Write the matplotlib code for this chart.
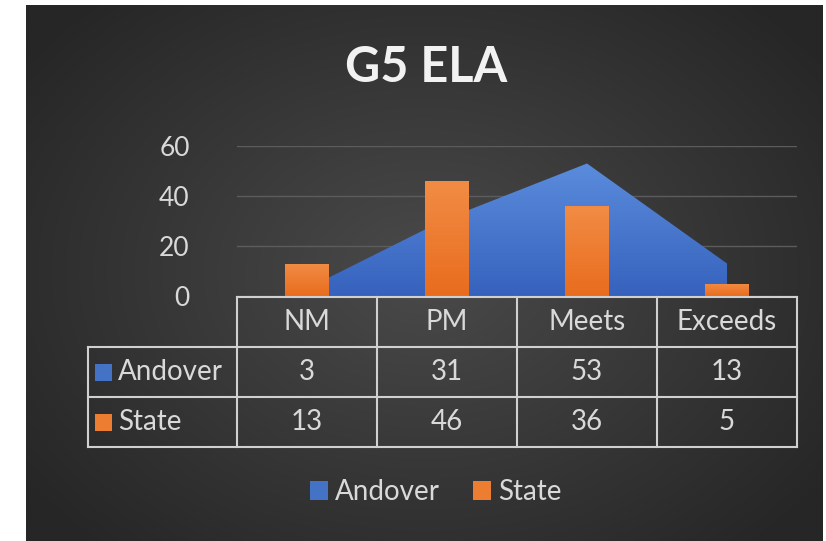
import matplotlib.pyplot as plt
import numpy as np
from matplotlib.patches import Patch, Rectangle
from matplotlib.path import Path
from matplotlib.patches import PathPatch

categories = ["NM", "PM", "Meets", "Exceeds"]
andover = [3, 31, 53, 13]
state = [13, 46, 36, 5]
series_names = ["Andover", "State"]
yticks = [0, 20, 40, 60]

BLUE = "#4472c4"
ORANGE = "#ed7d31"
TEXT = "#d9d9d9"
LINE = "#d0d0d0"

plt.rcParams["font.family"] = ["Lato", "DejaVu Sans"]

W, H = 826, 541
fig = plt.figure(figsize=(W / 100, H / 100), dpi=100, facecolor="#272727")


def fx(px):
    return px / W


def fy(py):
    return 1 - py / H


# white margins on left / top / right, then the radial gradient background
for rect in [(0, 0, fx(26), 1), (0, fy(5), 1, 1 - fy(5)), (fx(823), 0, 1 - fx(823), 1)]:
    fig.patches.append(Rectangle(rect[:2], rect[2], rect[3], transform=fig.transFigure,
                                 facecolor="white", edgecolor="none", zorder=0))
bg = fig.add_axes([fx(26), 0, fx(823 - 26), fy(5)])
bg.set_axis_off()
gx, gy = np.meshgrid(np.linspace(-1, 1, 400), np.linspace(-1, 1, 300))
r = np.clip(np.sqrt(gx ** 2 + (gy * 0.9) ** 2) / 1.25, 0, 1)
inner = np.array([0x4a, 0x4a, 0x4a]) / 255
outer = np.array([0x26, 0x26, 0x26]) / 255
img = inner[None, None, :] * (1 - r[..., None]) + outer[None, None, :] * r[..., None]
bg.imshow(img, aspect="auto", extent=(0, 1, 0, 1), zorder=0, interpolation="bilinear")
bg.set_xlim(0, 1)
bg.set_ylim(0, 1)
bg.margins(0)

fig.text(fx(426), fy(68), "G5 ELA", color="#f2f2f2", fontsize=35,
         fontweight="bold", ha="center", va="center")

# main chart
ax = fig.add_axes([fx(237), fy(296), fx(797 - 237), (296 - 146) / H])
ax.set_facecolor("none")
x = np.arange(len(categories))

# area with vertical gradient
verts = [(x[0], 0)] + list(zip(x, andover)) + [(x[-1], 0), (x[0], 0)]
codes = [Path.MOVETO] + [Path.LINETO] * (len(verts) - 2) + [Path.CLOSEPOLY]
area = PathPatch(Path(verts, codes), facecolor="none", edgecolor="none")
ax.add_patch(area)
grad = np.linspace(0, 1, 256)[:, None]
top_c = np.array([0x5b, 0x8c, 0xdc]) / 255
bot_c = np.array([0x36, 0x62, 0xbd]) / 255
area_img = top_c * grad[..., None] + bot_c * (1 - grad[..., None])
im = ax.imshow(np.repeat(area_img, 2, axis=1), aspect="auto",
               extent=(x[0], x[-1], 0, max(andover)), origin="lower", zorder=2)
im.set_clip_path(area)

# bars with vertical gradient
bars = ax.bar(x, state, width=0.31, color="none", zorder=3)
otop = np.array([0xf2, 0x8c, 0x45]) / 255
obot = np.array([0xe8, 0x6c, 0x1e]) / 255
for b in bars:
    bx, by = b.get_x(), b.get_y()
    bw, bh = b.get_width(), b.get_height()
    bimg = otop * grad[..., None] + obot * (1 - grad[..., None])
    bi = ax.imshow(np.repeat(bimg, 2, axis=1), aspect="auto",
                   extent=(bx, bx + bw, by, by + bh), origin="lower", zorder=3)
    bi.set_clip_path(b)
ax.set_xlim(-0.5, 3.5)
ax.set_ylim(0, 60)

ax.set_yticks(yticks)
ax.set_xticks([])
ax.grid(axis="y", color="#5c5c5c", linewidth=1, zorder=1)
ax.set_axisbelow(True)
ax.tick_params(axis="y", length=0, pad=34, labelsize=19, labelcolor=TEXT)
for s in ax.spines.values():
    s.set_visible(False)

# data table
label_w = 149 / 140
tab = fig.add_axes([fx(88), fy(447), fx(797 - 88), (447 - 297) / H])
tab.set_axis_off()
tab.set_facecolor("none")
x0 = -0.5 - label_w
tab.set_xlim(x0, 3.5)
tab.set_ylim(3, 0)
lw = 1.5
tab.plot([-0.5, 3.5], [0, 0], color=LINE, lw=lw, clip_on=False)
for yy in [1, 2, 3]:
    tab.plot([x0, 3.5], [yy, yy], color=LINE, lw=lw, clip_on=False)
for i in range(len(categories) + 1):
    tab.plot([-0.5 + i, -0.5 + i], [0, 3], color=LINE, lw=lw, clip_on=False)
tab.plot([x0, x0], [1, 3], color=LINE, lw=lw, clip_on=False)

for i, c in enumerate(categories):
    tab.text(i, 0.5, c, color=TEXT, fontsize=20, ha="center", va="center")
rows = [andover, state]
colors = [BLUE, ORANGE]
for j, (name, vals, col) in enumerate(zip(series_names, rows, colors)):
    yc = 1.5 + j
    tab.add_patch(Rectangle((x0 + 7 / 140, yc - 0.17), 17 / 140, 0.34,
                            facecolor=col, edgecolor="none"))
    tab.text(x0 + 30 / 140, yc, name, color=TEXT, fontsize=20,
             ha="left", va="center")
    for i, v in enumerate(vals):
        tab.text(i, yc, str(v), color=TEXT, fontsize=20, ha="center", va="center")

handles = [Patch(facecolor=BLUE, label=series_names[0]),
           Patch(facecolor=ORANGE, label=series_names[1])]
fig.legend(handles=handles, loc="center", bbox_to_anchor=(fx(436), fy(492)),
           ncol=2, frameon=False, fontsize=20, labelcolor=TEXT,
           handlelength=0.65, handleheight=0.65, handletextpad=0.25,
           columnspacing=1.2)

fig.savefig("out.png", dpi=100, facecolor=fig.get_facecolor())
